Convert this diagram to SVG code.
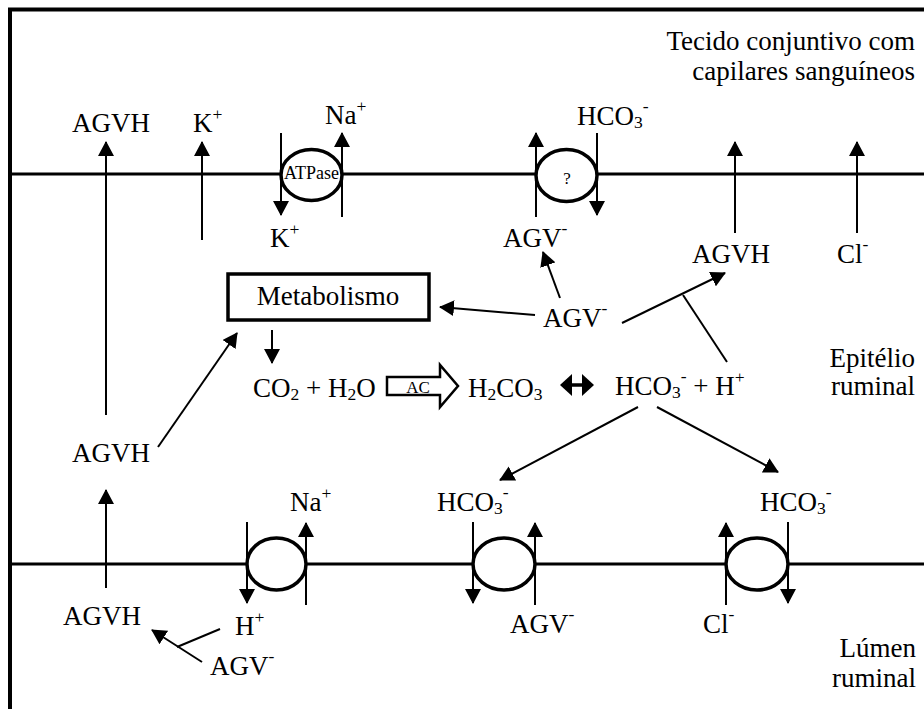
<svg xmlns="http://www.w3.org/2000/svg" width="924" height="709" viewBox="0 0 924 709">
<style>
text{font-family:"Liberation Serif","Times New Roman",serif;font-size:27px;fill:#000}
.sm{font-size:17.5px}
.r{text-anchor:end}
.m{text-anchor:middle}
.ln{stroke:#000;stroke-width:2;fill:none}
.ar{stroke:#000;stroke-width:2;fill:none;marker-end:url(#ah)}
.mem{stroke:#000;stroke-width:3;fill:none}
.tr{stroke:#000;stroke-width:3.5;fill:#fff}
</style>
<defs>
<marker id="ah" viewBox="0 0 15 16" refX="14" refY="8" markerWidth="15" markerHeight="16" markerUnits="userSpaceOnUse" orient="auto">
<path d="M0,0 L15,8 L0,16 Z" fill="#000"/>
</marker>
</defs>
<rect width="924" height="709" fill="#fff"/>
<g id="frame">
<line x1="10" y1="9" x2="10" y2="709" stroke="#000" stroke-width="4"/>
<line x1="8" y1="9.5" x2="924" y2="9.5" stroke="#000" stroke-width="4"/>
<line class="mem" x1="10" y1="174" x2="924" y2="174"/>
<line class="mem" x1="10" y1="564" x2="924" y2="564"/>
</g>
<g id="connectors">
<line class="ar" x1="106" y1="415" x2="106" y2="142"/>
<line class="ar" x1="202" y1="240" x2="202" y2="142"/>
<line class="ar" x1="281" y1="133" x2="281" y2="215"/>
<line class="ar" x1="342" y1="217" x2="342" y2="133"/>
<line class="ar" x1="536" y1="217" x2="536" y2="133"/>
<line class="ar" x1="597" y1="133" x2="597" y2="215"/>
<line class="ar" x1="735" y1="233" x2="735" y2="142"/>
<line class="ar" x1="857" y1="233" x2="857" y2="142"/>
<line class="ar" x1="560" y1="298" x2="543" y2="252"/>
<line class="ar" x1="535" y1="315" x2="440" y2="307"/>
<line class="ar" x1="622" y1="323" x2="725" y2="273"/>
<line class="ln" x1="727" y1="362" x2="683" y2="295"/>
<line class="ar" x1="272" y1="330" x2="272" y2="363"/>
<line class="ar" x1="158" y1="447" x2="237" y2="333"/>
<line class="ar" x1="638" y1="407" x2="500" y2="480"/>
<line class="ar" x1="657" y1="407" x2="778" y2="472"/>
<line class="ar" x1="106" y1="588" x2="106" y2="490"/>
<line class="ar" x1="247" y1="522" x2="247" y2="603"/>
<line class="ar" x1="306" y1="605" x2="306" y2="523"/>
<line class="ar" x1="473" y1="522" x2="473" y2="603"/>
<line class="ar" x1="535" y1="605" x2="535" y2="523"/>
<line class="ar" x1="726" y1="605" x2="726" y2="523"/>
<line class="ar" x1="788" y1="522" x2="788" y2="603"/>
<line class="ar" x1="202" y1="662" x2="152" y2="630"/>
<line class="ln" x1="220" y1="629" x2="177" y2="647"/>
<g id="ac-arrow">
<polygon points="387,377 440,377 440,365 458,386 440,407 440,395 387,395" fill="#fff" stroke="#000" stroke-width="2.5"/>
<text class="m" x="418" y="393" style="font-size:17px">AC</text>
</g>
<g id="equilibrium">
<polygon points="560,385 572,374 572,396" fill="#000"/>
<polygon points="594,385 582,374 582,396" fill="#000"/>
<line x1="571" y1="385" x2="583" y2="385" stroke="#000" stroke-width="3.5"/>
</g>
</g>
<g id="atpase">
<ellipse class="tr" cx="311.5" cy="175" rx="30.5" ry="25.5"/>
<line x1="281" y1="150" x2="281" y2="200" stroke="#000" stroke-width="2"/>
<line x1="342" y1="150" x2="342" y2="200" stroke="#000" stroke-width="2"/>
<text class="m" x="311.5" y="179" style="font-size:18px">ATPase</text>
</g>
<g id="unknown-transporter">
<ellipse class="tr" cx="566.5" cy="175.5" rx="30.5" ry="26"/>
<line x1="536" y1="150" x2="536" y2="200" stroke="#000" stroke-width="2"/>
<line x1="597" y1="150" x2="597" y2="200" stroke="#000" stroke-width="2"/>
<text class="m" x="567" y="184" style="font-size:17px">?</text>
</g>
<g id="nah-transporter">
<ellipse class="tr" cx="276.5" cy="564" rx="29.5" ry="26"/>
<line x1="247" y1="540" x2="247" y2="590" stroke="#000" stroke-width="2"/>
<line x1="306" y1="540" x2="306" y2="590" stroke="#000" stroke-width="2"/>
</g>
<g id="hco3-agv-transporter">
<ellipse class="tr" cx="504" cy="564" rx="31" ry="26"/>
<line x1="473" y1="540" x2="473" y2="590" stroke="#000" stroke-width="2"/>
<line x1="535" y1="540" x2="535" y2="590" stroke="#000" stroke-width="2"/>
</g>
<g id="hco3-cl-transporter">
<ellipse class="tr" cx="757" cy="564" rx="31" ry="26"/>
<line x1="726" y1="540" x2="726" y2="590" stroke="#000" stroke-width="2"/>
<line x1="788" y1="540" x2="788" y2="590" stroke="#000" stroke-width="2"/>
</g>
<g id="metabolismo">
<rect x="228" y="274" width="201" height="46" fill="#fff" stroke="#000" stroke-width="3.5"/>
<text class="m" x="328" y="305">Metabolismo</text>
</g>
<g id="label-tecido"><text class="r" x="915" y="50">Tecido conjuntivo com</text><text class="r" x="915" y="80">capilares sanguíneos</text></g>
<g id="label-epitelio"><text class="r" x="915" y="367">Epitélio</text><text class="r" x="915" y="395">ruminal</text></g>
<g id="label-lumen"><text class="r" x="916" y="657">Lúmen</text><text class="r" x="916" y="687">ruminal</text></g>
<g id="agvh-blood"><text x="72" y="132">AGVH</text></g>
<g id="k-blood"><text x="193" y="132">K<tspan class="sm" dy="-12">+</tspan></text></g>
<g id="na-blood"><text x="325" y="124">Na<tspan class="sm" dy="-12">+</tspan></text></g>
<g id="k-cell"><text x="270" y="247">K<tspan class="sm" dy="-12">+</tspan></text></g>
<g id="hco3-blood"><text x="577" y="125">HCO<tspan class="sm" dy="3">3</tspan><tspan class="sm" dy="-16">-</tspan></text></g>
<g id="agv-cell-top"><text x="503" y="247">AGV<tspan class="sm" dy="-13">-</tspan></text></g>
<g id="agvh-cell-right"><text x="692" y="263">AGVH</text></g>
<g id="cl-cell"><text x="837" y="263">Cl<tspan class="sm" dy="-13">-</tspan></text></g>
<g id="agv-cell-mid"><text x="543" y="327">AGV<tspan class="sm" dy="-13">-</tspan></text></g>
<g id="co2-h2o"><text x="253" y="397">CO<tspan class="sm" dy="3">2</tspan><tspan dy="-3"> + H</tspan><tspan class="sm" dy="3">2</tspan><tspan dy="-3">O</tspan></text></g>
<g id="h2co3"><text x="468" y="397">H<tspan class="sm" dy="3">2</tspan><tspan dy="-3">CO</tspan><tspan class="sm" dy="3">3</tspan></text></g>
<g id="hco3-h"><text x="615" y="395">HCO<tspan class="sm" dy="3">3</tspan><tspan class="sm" dy="-16">-</tspan><tspan dy="13"> + H</tspan><tspan class="sm" dy="-12">+</tspan></text></g>
<g id="agvh-cell-left"><text x="72" y="462">AGVH</text></g>
<g id="na-lumen"><text x="290" y="511">Na<tspan class="sm" dy="-12">+</tspan></text></g>
<g id="hco3-cell-left"><text x="437" y="511">HCO<tspan class="sm" dy="3">3</tspan><tspan class="sm" dy="-16">-</tspan></text></g>
<g id="hco3-cell-right"><text x="760" y="511">HCO<tspan class="sm" dy="3">3</tspan><tspan class="sm" dy="-16">-</tspan></text></g>
<g id="agvh-lumen"><text x="63" y="625">AGVH</text></g>
<g id="h-lumen"><text x="235" y="635">H<tspan class="sm" dy="-12">+</tspan></text></g>
<g id="agv-lumen-mid"><text x="510" y="633">AGV<tspan class="sm" dy="-13">-</tspan></text></g>
<g id="cl-lumen"><text x="703" y="633">Cl<tspan class="sm" dy="-13">-</tspan></text></g>
<g id="agv-lumen-left"><text x="210" y="675">AGV<tspan class="sm" dy="-13">-</tspan></text></g>
</svg>
